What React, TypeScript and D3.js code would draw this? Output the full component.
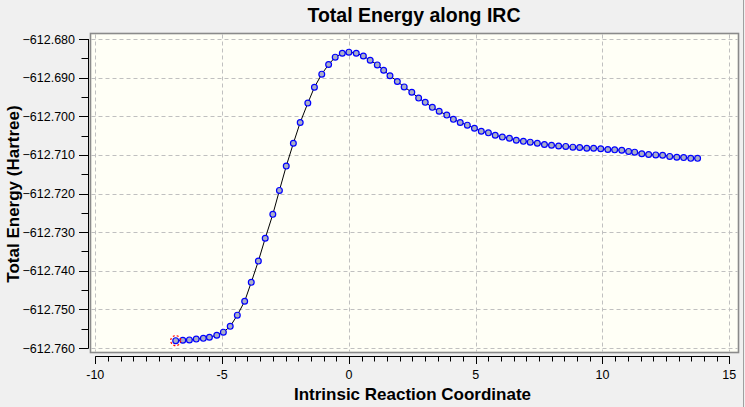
import React, { useRef, useEffect } from 'react';
import * as d3 from 'd3';

// IRC coordinate of each point
const ircCoord = [
  -6.83, -6.55, -6.29, -6.02, -5.74, -5.5, -5.21, -4.95, -4.68, -4.4,
  -4.11, -3.85, -3.57, -3.3, -3.0, -2.74, -2.47, -2.19, -1.92, -1.62,
  -1.36, -1.07, -0.8, -0.54, -0.26, 0.0, 0.29, 0.57, 0.84, 1.12,
  1.37, 1.62, 1.91, 2.18, 2.48, 2.75, 3.01, 3.29, 3.56, 3.86,
  4.12, 4.39, 4.67, 4.95, 5.22, 5.5, 5.77, 6.05, 6.33, 6.6,
  6.88, 7.15, 7.43, 7.71, 7.99, 8.27, 8.55, 8.83, 9.1, 9.38,
  9.65, 9.93, 10.21, 10.48, 10.76, 11.03, 11.27, 11.55, 11.82, 12.1,
  12.37, 12.65, 12.93, 13.2, 13.48, 13.75,
];

// Total energy (Hartree) of each point
const totalEnergy = [
  -612.7581, -612.758, -612.7579, -612.7577, -612.7575, -612.7572, -612.7567, -612.7559, -612.7544, -612.7515,
  -612.7479, -612.743, -612.7375, -612.7316, -612.7254, -612.7192, -612.7129, -612.707, -612.7016, -612.6966,
  -612.6925, -612.6891, -612.6866, -612.6847, -612.6837, -612.6834, -612.6837, -612.6844, -612.6855, -612.6867,
  -612.6881, -612.6895, -612.691, -612.6924, -612.6938, -612.6953, -612.6964, -612.6977, -612.6987, -612.6997,
  -612.7008, -612.7016, -612.7023, -612.7031, -612.7039, -612.7043, -612.7049, -612.7054, -612.7057, -612.7062,
  -612.7065, -612.7067, -612.707, -612.7073, -612.7075, -612.7077, -612.7078, -612.708, -612.7081, -612.7083,
  -612.7083, -612.7084, -612.7086, -612.7087, -612.7088, -612.7091, -612.7093, -612.7097, -612.7099, -612.71,
  -612.7101, -612.7104, -612.7106, -612.7107, -612.7109, -612.7109,
];

const xTicks = [-10, -5, 0, 5, 10, 15];
const yTicks = [-612.68, -612.69, -612.7, -612.71, -612.72, -612.73, -612.74, -612.75, -612.76];

const width = 745;
const height = 407;
const font = "'Liberation Sans', Arial, sans-serif";

const App: React.FC = () => {
  const svgRef = useRef<SVGSVGElement>(null);

  useEffect(() => {
    if (!svgRef.current) return;
    const svg = d3.select(svgRef.current);
    svg.selectAll('*').remove();

    const x = d3.scaleLinear().domain([-10, 15]).range([95.3, 729.3]);
    const y = d3.scaleLinear().domain([-612.76, -612.68]).range([348, 39]);

    const box = { left: 90.5, right: 738.5, top: 33.5, bottom: 352.5 };

    // window background
    svg.append('rect').attr('width', width).attr('height', height).attr('fill', '#f0f0f0');
    svg.append('line')
      .attr('x1', 743.5).attr('x2', 743.5).attr('y1', 0).attr('y2', height)
      .attr('stroke', '#a0a0a0');

    // plot area
    svg.append('rect')
      .attr('x', box.left).attr('y', box.top)
      .attr('width', box.right - box.left).attr('height', box.bottom - box.top)
      .attr('fill', '#fffff6');

    // grid
    const grid = svg.append('g').attr('stroke', '#c0c0c0').attr('stroke-dasharray', '4,3');
    xTicks.forEach(t => {
      grid.append('line')
        .attr('x1', Math.round(x(t)) + 0.5).attr('x2', Math.round(x(t)) + 0.5)
        .attr('y1', box.top + 1).attr('y2', box.bottom - 1);
    });
    yTicks.forEach(t => {
      grid.append('line')
        .attr('x1', box.left + 1).attr('x2', box.right - 1)
        .attr('y1', Math.round(y(t)) + 0.5).attr('y2', Math.round(y(t)) + 0.5);
    });

    svg.append('rect')
      .attr('x', box.left).attr('y', box.top)
      .attr('width', box.right - box.left).attr('height', box.bottom - box.top)
      .attr('fill', 'none').attr('stroke', '#8a8a8a').attr('stroke-width', 1.6);

    // y axis
    const yAxis = svg.append('g').attr('stroke', '#000');
    yAxis.append('line').attr('x1', 88.5).attr('x2', 88.5).attr('y1', y(-612.68)).attr('y2', y(-612.76) + 0.5);
    d3.range(-612.76, -612.6799, 0.005).forEach((t, i) => {
      const py = Math.round(y(t)) + 0.5;
      yAxis.append('line').attr('x1', i % 2 === 0 ? 79 : 81.5).attr('x2', 88.5).attr('y1', py).attr('y2', py);
    });
    svg.append('g').selectAll('text').data(yTicks).enter().append('text')
      .attr('x', 75).attr('y', d => y(d)).attr('dy', '0.36em')
      .attr('text-anchor', 'end').attr('font-family', font).attr('font-size', '12.5px')
      .text(d => d3.format('.3f')(d));

    // x axis
    const xAxis = svg.append('g').attr('stroke', '#000');
    xAxis.append('line').attr('x1', x(-10)).attr('x2', x(15) + 0.5).attr('y1', 356.5).attr('y2', 356.5);
    d3.range(-10, 15.01, 0.5).forEach((t, i) => {
      const px = Math.round(x(t)) + 0.5;
      xAxis.append('line').attr('x1', px).attr('x2', px).attr('y1', 356.5).attr('y2', i % 10 === 0 ? 364 : 361.5);
    });
    svg.append('g').selectAll('text').data(xTicks).enter().append('text')
      .attr('x', d => x(d)).attr('y', 379)
      .attr('text-anchor', 'middle').attr('font-family', font).attr('font-size', '12.5px')
      .text(d => String(d));

    // titles
    svg.append('text')
      .attr('x', 414).attr('y', 21.5).attr('text-anchor', 'middle')
      .attr('font-family', font).attr('font-weight', 'bold').attr('font-size', '19.5px')
      .text('Total Energy along IRC');
    svg.append('text')
      .attr('x', 412.5).attr('y', 400).attr('text-anchor', 'middle')
      .attr('font-family', font).attr('font-weight', 'bold').attr('font-size', '17px')
      .text('Intrinsic Reaction Coordinate');
    svg.append('text')
      .attr('transform', 'translate(18.5, 194) rotate(-90)').attr('text-anchor', 'middle')
      .attr('font-family', font).attr('font-weight', 'bold').attr('font-size', '17px')
      .text('Total Energy (Hartree)');

    // curve and markers
    const points = ircCoord.map((c, i) => [c, totalEnergy[i]] as [number, number]);
    const line = d3.line<[number, number]>().x(d => x(d[0])).y(d => y(d[1]));
    svg.append('path').datum(points)
      .attr('d', line).attr('fill', 'none').attr('stroke', '#000').attr('stroke-width', 1);

    svg.append('g').selectAll('circle').data(points).enter().append('circle')
      .attr('cx', d => x(d[0])).attr('cy', d => y(d[1])).attr('r', 2.9)
      .attr('fill', '#a9aec6').attr('stroke', '#0000ff').attr('stroke-width', 1.2);

    // highlight of the current point
    svg.append('circle')
      .attr('cx', x(points[0][0])).attr('cy', y(points[0][1])).attr('r', 5)
      .attr('fill', 'none').attr('stroke', '#ff0000').attr('stroke-width', 1.2)
      .attr('stroke-dasharray', '2,2');
  }, []);

  return (
    <div style={{ position: 'absolute', left: 0, top: 0 }}>
      <svg ref={svgRef} width={width} height={height} style={{ display: 'block' }}></svg>
    </div>
  );
};

export default App;
